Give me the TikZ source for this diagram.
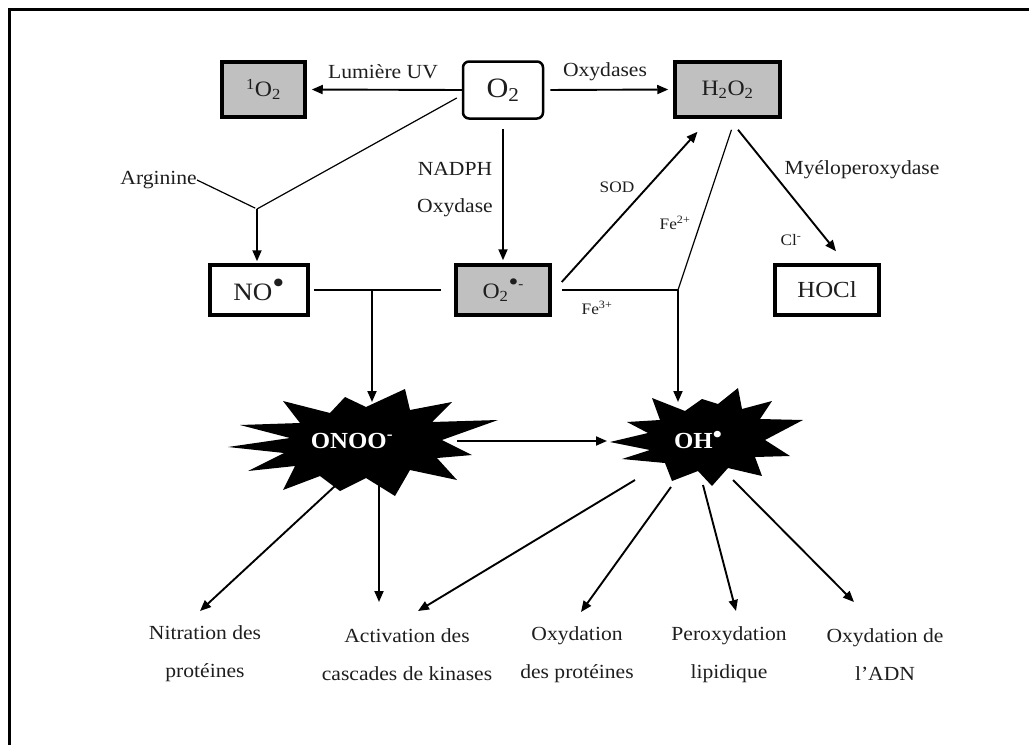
\documentclass[tikz,border=0pt]{standalone}
\usepackage{fontspec}
\setmainfont{Liberation Serif}[FakeStretch=1.08]
\usetikzlibrary{arrows.meta}
\definecolor{boxgray}{RGB}{192,192,192}
\definecolor{ink}{RGB}{30,30,30}
\newcommand{\bigbul}[2]{\raisebox{#1}{\fontsize{#2}{#2}\selectfont\textbullet}}
\begin{document}
\begin{tikzpicture}[x=1pt,y=-1pt,
  box/.style={draw=black, line width=3.5pt, fill=white, inner sep=0pt, text=ink},
  gbox/.style={box, fill=boxgray},
  rbox/.style={draw=black, line width=2.5pt, rounded corners=6pt, fill=white, inner sep=0pt, text=ink},
  lbl/.style={font=\fontsize{20}{24}\selectfont, text=ink, inner sep=0pt},
  slbl/.style={font=\fontsize{16}{19}\selectfont, text=ink, inner sep=0pt},
  blbl/.style={font=\fontsize{20}{38}\selectfont, text=ink, inner sep=0pt, align=center},
  arr/.style={-{Triangle[length=11pt,width=9pt]}, line width=1.9pt, draw=black},
  thinline/.style={line width=1.2pt, draw=black},
  burst/.style={fill=black},
  btext/.style={font=\fontsize{23}{26}\selectfont\bfseries, text=white, inner sep=0pt}
]
\useasboundingbox (0,0) rectangle (1029,745);
\draw[line width=3pt] (9,745) -- (9,9) -- (1029,9);

% boxes
\node[gbox, minimum width=83, minimum height=55, font=\fontsize{22}{24}\selectfont] (so2) at (263.5,89.5) {\textsuperscript{1}O\textsubscript{2}};
\node[rbox, minimum width=80, minimum height=57, font=\fontsize{28}{30}\selectfont] (o2) at (503,90) {O\textsubscript{2}};
\node[gbox, minimum width=105, minimum height=55, font=\fontsize{22}{24}\selectfont] (h2o2) at (727.5,89.5) {H\textsubscript{2}O\textsubscript{2}};
\node[box, minimum width=98, minimum height=50, font=\fontsize{25}{27}\selectfont] (no) at (259,290) {NO\bigbul{0.3em}{32}};
\node[gbox, minimum width=94, minimum height=50, font=\fontsize{22}{24}\selectfont] (sup) at (503,290) {O\textsubscript{2}\bigbul{0.35em}{26}\raisebox{0.45em}{\fontsize{14}{14}\selectfont -}};
\node[box, minimum width=104, minimum height=50, font=\fontsize{23}{25}\selectfont] (hocl) at (827,290) {HOCl};

% labels
\node[lbl] (luv) at (383,72) {Lumière UV};
\node[lbl] (oxs) at (605,72) {Oxydases};
\node[lbl, anchor=east] (arg) at (197,180) {Arginine};
\node[lbl] (nadph) at (455,169) {NADPH};
\node[lbl] (oxd) at (455,208) {Oxydase};
\node[slbl] (sod) at (617,187) {SOD};
\node[slbl] (fe2) at (675,223) {Fe\textsuperscript{2+}};
\node[lbl] (myelo) at (862,170) {Myéloperoxydase};
\node[slbl] (cl) at (791,240) {Cl\textsuperscript{-}};
\node[slbl] (fe3) at (597,308) {Fe\textsuperscript{3+}};

% starbursts
\fill[burst] (228,447) -- (290,438) -- (240,425) -- (300,423) -- (283,401) -- (330,413)
  -- (345,397) -- (366,407) -- (405,389) -- (410,410) -- (452,402) -- (432,422)
  -- (498,420) -- (442,440) -- (472,455) -- (437,458) -- (457,480) -- (410,470)
  -- (395,496) -- (366,478) -- (340,491) -- (320,476) -- (283,490) -- (295,466)
  -- (248,471) -- (284,453) -- cycle;
\node[btext] (onoo) at (352,441) {ONOO\textsuperscript{-}};

\fill[burst] (610,442) -- (648,433) -- (627,422) -- (660,420) -- (652,398) -- (685,411)
  -- (702,399) -- (718,404) -- (738,388) -- (742,409) -- (772,401) -- (760,419)
  -- (803,420) -- (765,440) -- (790,456) -- (755,457) -- (762,476) -- (728,468)
  -- (712,486) -- (698,471) -- (672,481) -- (665,463) -- (622,459) -- (650,450) -- cycle;
\node[btext] (oh) at (698,440) {OH\bigbul{0.3em}{24}};

% bottom labels
\node[blbl] (nitr) at (205,654) {Nitration des\\protéines};
\node[blbl] (activ) at (407,655) {Activation des\\cascades de kinases};
\node[blbl] (oxprot) at (577,655) {Oxydation\\des protéines};
\node[blbl] (perox) at (729,655) {Peroxydation\\lipidique};
\node[blbl] (oxadn) at (885,655) {Oxydation de\\l’ADN};

% coordinates
\coordinate (argj) at (257,209);
\coordinate (onj) at (372,290);
\coordinate (fej) at (678,290);
\coordinate (onooT) at (372,403);
\coordinate (ohT) at (678,402);
\coordinate (onooR) at (457,441);
\coordinate (ohL) at (607,441);
\coordinate (onooB1) at (335,486);
\coordinate (onooB2) at (379,480);
\coordinate (ohB1) at (635,480);
\coordinate (ohB2) at (671,487);
\coordinate (ohB3) at (703,485);
\coordinate (ohB4) at (733,480);
\coordinate (nitrT) at (200,611);
\coordinate (activT1) at (379,602);
\coordinate (activT2) at (418,611);
\coordinate (oxprotT) at (581,612);
\coordinate (peroxT) at (736,611);
\coordinate (oxadnT) at (854,602);

% connectors
\draw[arr, shorten >=5pt] (o2.west) -- (so2.east);
\draw[arr, shorten <=6pt, shorten >=5pt] (o2.east) -- (h2o2.west);
\draw[thinline, shorten >=2pt] (arg.east) -- (argj);
\draw[thinline] (argj) -- ([shift={(-5,8)}]o2.west);
\draw[arr, shorten >=2pt] (argj) -- (argj |- no.north);
\draw[arr, shorten <=9pt, shorten >=3pt] (o2.south) -- (sup.north);
\draw[thinline, shorten <=4pt, shorten >=13pt] (no.east) -- (sup.west);
\draw[arr, shorten >=1pt] (onj) -- (onooT);
\draw[thinline, shorten <=10pt] (sup.east) -- (fej);
\draw[thinline] ([shift={(4,11)}]h2o2.south) -- (fej);
\draw[arr] (fej) -- (ohT);
\draw[arr] ([shift={(10,-8)}]sup.east) -- ([shift={(-30,13)}]h2o2.south);
\draw[arr] ([shift={(10.5,11)}]h2o2.south) -- ([shift={(9,-12)}]hocl.north);
\draw[arr] (onooR) -- (ohL);
\draw[arr] (onooB1) -- (nitrT);
\draw[arr] (onooB2) -- (activT1);
\draw[arr] (ohB1) -- (activT2);
\draw[arr] (ohB2) -- (oxprotT);
\draw[arr] (ohB3) -- (peroxT);
\draw[arr] (ohB4) -- (oxadnT);
\end{tikzpicture}
\end{document}
